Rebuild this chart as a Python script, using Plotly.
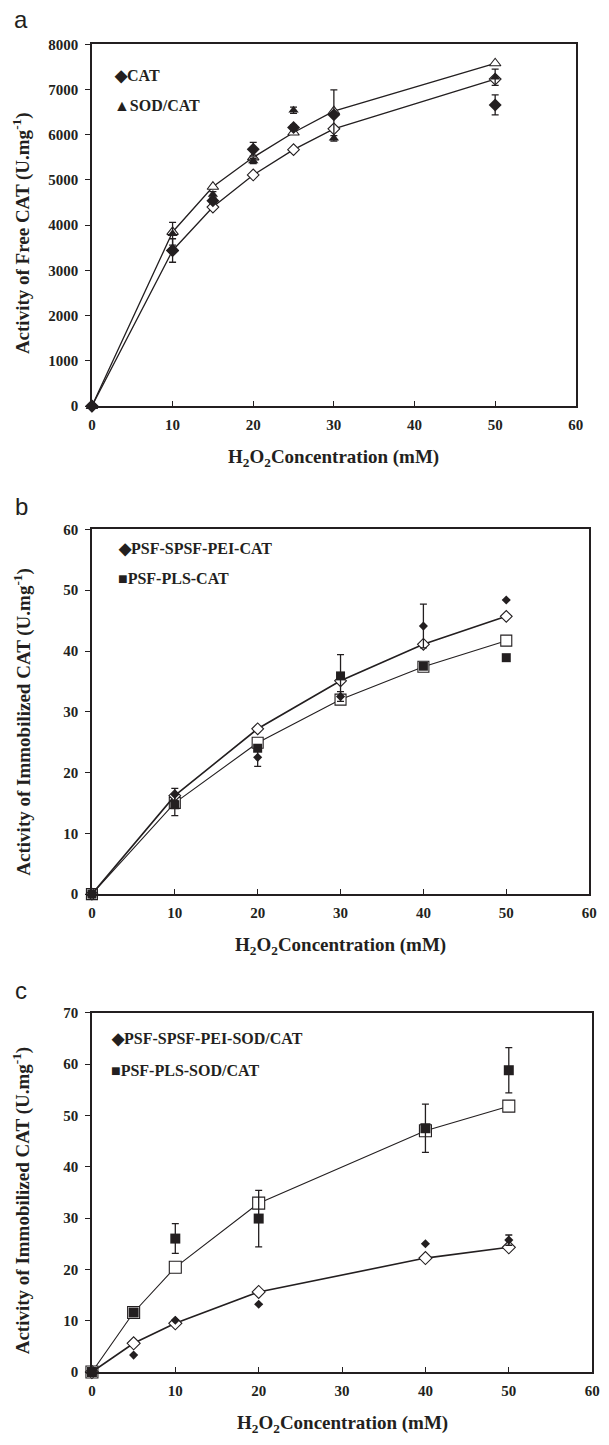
import plotly.graph_objects as go

W, H = 609, 1445

# ---------------- data ----------------
# Panel a : free enzyme
x_a = [0, 10, 15, 20, 25, 30, 50]
cat_free = [0, 3440, 4540, 5680, 6160, 6440, 6660]
cat_free_err = [0, 260, 60, 150, 60, 550, 220]
sodcat_free = [0, 3810, 4680, 5420, 6540, 5920, 7270]
sodcat_free_err = [0, 250, 60, 60, 70, 60, 180]
cat_free_fit = [0, 3440, 4400, 5110, 5670, 6130, 7230]
sodcat_free_fit = [0, 3850, 4850, 5500, 6050, 6520, 7580]

# Panel b : immobilized CAT
x_b = [0, 10, 20, 30, 40, 50]
pei_cat = [0, 16.4, 22.5, 32.5, 44.1, 48.4]
pei_cat_err = [0, 1.0, 1.5, 0.8, 3.6, 0]
pls_cat = [0, 14.7, 24.0, 35.9, 37.5, 38.9]
pls_cat_err = [0, 1.8, 0.5, 3.5, 0, 0]
pei_cat_fit = [0, 16.2, 27.2, 35.1, 41.1, 45.7]
pls_cat_fit = [0, 15.0, 24.9, 32.0, 37.4, 41.7]

# Panel c : immobilized SOD/CAT
x_c = [0, 5, 10, 20, 40, 50]
pei_sc = [0, 3.3, 10.1, 13.2, 25.0, 25.7]
pei_sc_err = [0, 0, 0, 0, 0, 1.0]
pls_sc = [0, 11.6, 26.0, 29.9, 47.5, 58.8]
pls_sc_err = [0, 0.5, 2.9, 5.5, 4.7, 4.4]
pei_sc_fit = [0, 5.6, 9.5, 15.6, 22.2, 24.3]
pls_sc_fit = [0, 11.6, 20.4, 32.9, 47.0, 51.8]

x_ticks = [0, 10, 20, 30, 40, 50, 60]

# ---------------- layout helpers ----------------
FONT = "Liberation Serif"
INK = "#231f20"

def fx(p):
    return p / W

def fy(p):
    return 1 - p / H

panels = [
    dict(x0=89.7, x1=583.3, y0=36.7, y1=402.5, ymax=8000, dtick=1000, ycen=228,
         ytitle="Activity of Free CAT (U.mg<sup>-1</sup>)", letter="a", lety=27),
    dict(x0=89.7, x1=596.9, y0=527.3, y1=896, ymax=60, dtick=10, ycen=722,
         ytitle="Activity of Immobilized CAT (U.mg<sup>-1</sup>)", letter="b", lety=520),
    dict(x0=89.7, x1=600.0, y0=1016, y1=1379.3, ymax=70, dtick=10, ycen=1206,
         ytitle="Activity of Immobilized CAT (U.mg<sup>-1</sup>)", letter="c", lety=1009),
]

fig = go.Figure()

def fit_trace(x, y, sym, size, lw, ax):
    return go.Scatter(x=x, y=y, mode="lines+markers", showlegend=False,
                      line=dict(color=INK, width=lw),
                      marker=dict(symbol=sym, size=size, color="white",
                                  line=dict(color=INK, width=1.1)),
                      cliponaxis=False, xaxis="x" + ax, yaxis="y" + ax)

def data_trace(x, y, err, sym, size, ax):
    return go.Scatter(x=x, y=y, mode="markers", showlegend=False,
                      marker=dict(symbol=sym, size=size, color=INK),
                      error_y=dict(type="data", array=err, color=INK,
                                   thickness=1.3, width=3.5),
                      cliponaxis=False, xaxis="x" + ax, yaxis="y" + ax)

# panel a
fig.add_trace(fit_trace(x_a, cat_free_fit, "diamond", 9, 1.3, ""))
fig.add_trace(fit_trace(x_a, sodcat_free_fit, "triangle-up", 10, 1.3, ""))
fig.add_trace(data_trace(x_a, sodcat_free, sodcat_free_err, "triangle-up", 9, ""))
fig.add_trace(data_trace(x_a, cat_free, cat_free_err, "diamond", 10, ""))

# panel b
fig.add_trace(fit_trace(x_b, pls_cat_fit, "square", 11, 1.1, "2"))
fig.add_trace(fit_trace(x_b, pei_cat_fit, "diamond", 9, 1.6, "2"))
fig.add_trace(data_trace(x_b, pls_cat, pls_cat_err, "square", 9, "2"))
fig.add_trace(data_trace(x_b, pei_cat, pei_cat_err, "diamond", 7, "2"))

# panel c
fig.add_trace(fit_trace(x_c, pls_sc_fit, "square", 12, 1.1, "3"))
fig.add_trace(fit_trace(x_c, pei_sc_fit, "diamond", 10, 1.6, "3"))
fig.add_trace(data_trace(x_c, pls_sc, pls_sc_err, "square", 10, "3"))
fig.add_trace(data_trace(x_c, pei_sc, pei_sc_err, "diamond", 7, "3"))

layout = dict(width=W, height=H, margin=dict(l=0, r=0, t=0, b=0),
              paper_bgcolor="white", plot_bgcolor="white", showlegend=False)

annotations = []
tickfont = dict(family=FONT, size=15, color=INK, weight="bold")
titlefont = dict(family=FONT, size=19, color=INK, weight="bold")
legfont = dict(family=FONT, size=16, color=INK, weight="bold")

for i, p in enumerate(panels):
    sfx = "" if i == 0 else str(i + 1)
    layout["xaxis" + sfx] = dict(
        domain=[fx(p["x0"]), fx(p["x1"])], anchor="y" + sfx, range=[0, 60],
        tickvals=x_ticks, ticks="inside", ticklen=5, tickwidth=1.2, tickcolor=INK,
        showline=True, linecolor=INK, linewidth=1.6, mirror=True,
        showgrid=False, zeroline=False, tickfont=tickfont, ticklabelstandoff=4)
    layout["yaxis" + sfx] = dict(
        domain=[fy(p["y1"]), fy(p["y0"])], anchor="x" + sfx, range=[0, p["ymax"]],
        dtick=p["dtick"], tick0=0, ticks="outside", ticklen=5, tickwidth=1.2,
        tickcolor=INK, showline=True, linecolor=INK, linewidth=1.6, mirror=True,
        showgrid=False, zeroline=False, tickfont=tickfont, ticklabelstandoff=4)
    cx = (p["x0"] + p["x1"]) / 2
    annotations.append(dict(
        text="H<sub>2</sub>O<sub>2</sub>Concentration (mM)", x=fx(cx), y=fy(p["y1"] + 53),
        xref="paper", yref="paper", xanchor="center", yanchor="middle",
        showarrow=False, font=titlefont))
    annotations.append(dict(
        text=p["ytitle"], x=fx(18), y=fy(p["ycen"]), xref="paper", yref="paper",
        xanchor="center", yanchor="middle", textangle=-90,
        showarrow=False, font=titlefont))
    annotations.append(dict(
        text=p["letter"], x=fx(17.5), y=fy(p["lety"]), xref="paper", yref="paper",
        xanchor="center", yanchor="bottom", showarrow=False,
        font=dict(family="Liberation Sans", size=24, color=INK)))

legends = [
    [("◆CAT", 110, 68.3), ("▲SOD/CAT", 110, 99)],
    [("◆PSF-SPSF-PEI-CAT", 114, 546.7), ("■PSF-PLS-CAT", 114, 576.7)],
    [("◆PSF-SPSF-PEI-SOD/CAT", 107, 1041.7), ("■PSF-PLS-SOD/CAT", 107, 1074)],
]
for items in legends:
    for text, lx, ly in items:
        annotations.append(dict(
            text=text, x=fx(lx), y=fy(ly), xref="paper", yref="paper",
            xanchor="left", yanchor="middle", showarrow=False, font=legfont))

layout["annotations"] = annotations
fig.update_layout(**layout)
fig.write_html("out.html")
